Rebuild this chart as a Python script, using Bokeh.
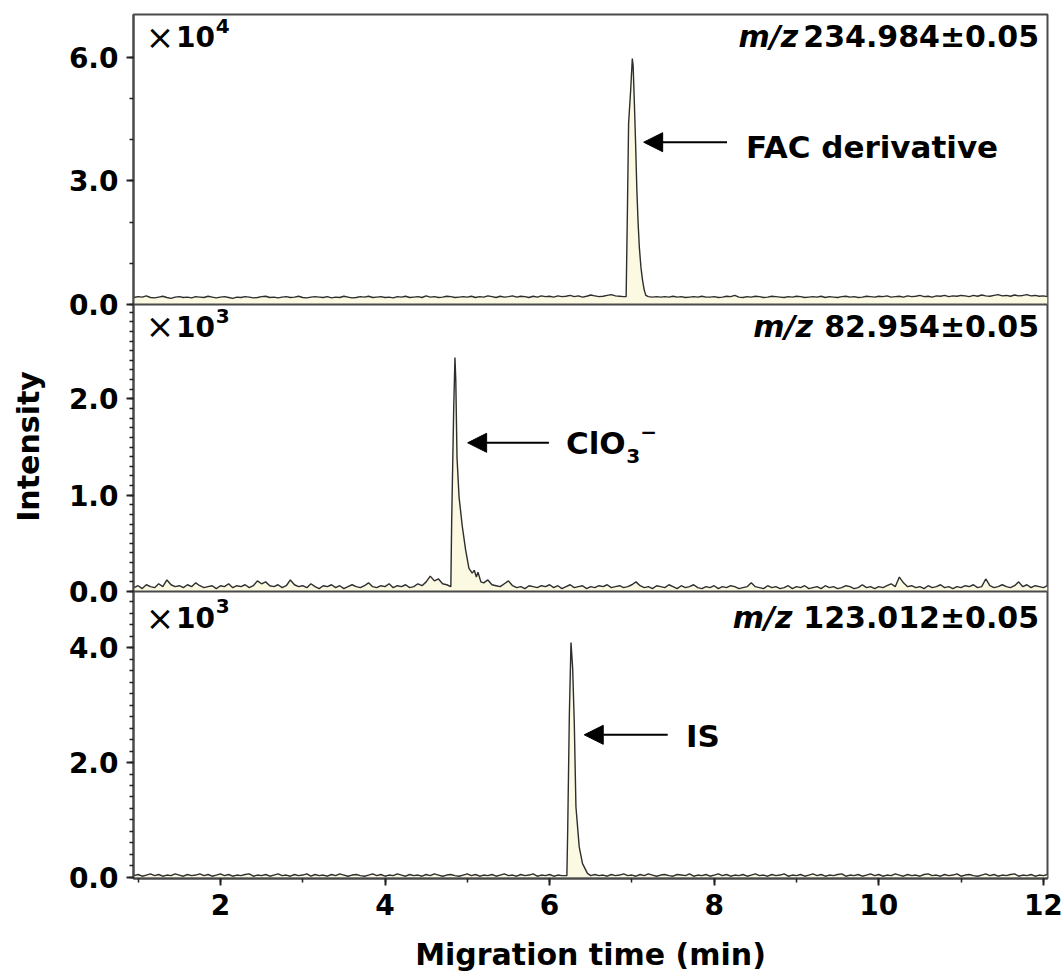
import numpy as np
from bokeh.plotting import figure
from bokeh.models import (Range1d, FixedTicker, CustomJSTickFormatter, Span, Label,
                          Arrow, NormalHead)
from bokeh.embed import file_html
from bokeh.resources import INLINE

# ---------------- data ----------------
# sampling grid of the electropherograms (min)
T_GRID = np.round(np.arange(0.95, 12.051, 0.05), 2)

# m/z 234.984 trace (x10^4) - baseline
P1_BASE = [
    0.17, 0.19, 0.18, 0.21, 0.17, 0.16, 0.18, 0.20, 0.17, 0.15, 0.18, 0.19, 0.17, 0.18, 0.16, 0.19, 0.18, 0.17, 0.20, 0.18,
    0.16, 0.18, 0.19, 0.17, 0.15, 0.18, 0.17, 0.19, 0.18, 0.16, 0.17, 0.19, 0.20, 0.17, 0.18, 0.16, 0.18, 0.19, 0.17, 0.18,
    0.20, 0.17, 0.16, 0.18, 0.19, 0.18, 0.17, 0.19, 0.16, 0.18, 0.17, 0.20, 0.18, 0.16, 0.17, 0.19, 0.18, 0.20, 0.17, 0.18,
    0.19, 0.17, 0.18, 0.16, 0.19, 0.18, 0.20, 0.17, 0.18, 0.19, 0.17, 0.21, 0.18, 0.19, 0.17, 0.18, 0.20, 0.19, 0.17, 0.18,
    0.19, 0.18, 0.20, 0.17, 0.19, 0.18, 0.21, 0.19, 0.17, 0.20, 0.18, 0.19, 0.21, 0.18, 0.20, 0.19, 0.17, 0.20, 0.18, 0.21,
    0.19, 0.20, 0.18, 0.21, 0.19, 0.20, 0.22, 0.19, 0.21, 0.18, 0.20, 0.23, 0.21, 0.19, 0.20, 0.22, 0.24, 0.21, 0.20, 0.19,
    0.20, 0.20, 0.20, 0.21, 0.20, 0.19, 0.18, 0.19, 0.18, 0.19, 0.18, 0.20, 0.18, 0.19, 0.17, 0.18, 0.19, 0.18, 0.20, 0.18,
    0.18, 0.19, 0.17, 0.18, 0.20, 0.19, 0.22, 0.18, 0.17, 0.19, 0.18, 0.20, 0.19, 0.17, 0.18, 0.20, 0.19, 0.18, 0.17, 0.19,
    0.18, 0.20, 0.19, 0.17, 0.18, 0.19, 0.18, 0.20, 0.17, 0.19, 0.18, 0.17, 0.19, 0.20, 0.18, 0.19, 0.17, 0.18, 0.20, 0.19,
    0.18, 0.20, 0.19, 0.21, 0.18, 0.19, 0.20, 0.18, 0.21, 0.19, 0.20, 0.22, 0.19, 0.20, 0.18, 0.21, 0.20, 0.22, 0.19, 0.21,
    0.20, 0.22, 0.21, 0.19, 0.22, 0.20, 0.23, 0.21, 0.20, 0.22, 0.24, 0.21, 0.22, 0.20, 0.23, 0.21, 0.22, 0.24, 0.21, 0.22,
    0.20, 0.21, 0.19,
]
P1_PEAK_T = [6.93, 6.945, 6.96, 6.985, 7.005, 7.015, 7.03, 7.045, 7.06, 7.075, 7.09, 7.11, 7.13, 7.15, 7.17, 7.20]
P1_PEAK_V = [0.19, 2.20, 4.40, 5.20, 5.97, 5.80, 4.90, 3.90, 2.80, 2.00, 1.40, 0.90, 0.58, 0.35, 0.22, 0.19]

# m/z 82.954 trace (x10^3)
P2_BASE = [
    0.04, 0.06, 0.03, 0.07, 0.05, 0.04, 0.08, 0.05, 0.12, 0.07, 0.05, 0.06, 0.04, 0.07, 0.05, 0.09, 0.06, 0.04, 0.05, 0.06,
    0.03, 0.06, 0.05, 0.08, 0.04, 0.06, 0.05, 0.07, 0.04, 0.06, 0.11, 0.08, 0.10, 0.06, 0.05, 0.07, 0.04, 0.06, 0.12, 0.07,
    0.05, 0.06, 0.04, 0.08, 0.05, 0.03, 0.06, 0.05, 0.07, 0.04, 0.06, 0.03, 0.05, 0.07, 0.05, 0.04, 0.06, 0.09, 0.05, 0.04,
    0.06, 0.05, 0.08, 0.04, 0.06, 0.05, 0.07, 0.04, 0.05, 0.08, 0.06, 0.10, 0.16, 0.11, 0.13, 0.08, 0.07, 0.05, 0.05, 0.05,
    0.05, 0.05, 0.05, 0.05, 0.05, 0.09, 0.12, 0.07, 0.06, 0.05, 0.08, 0.11, 0.06, 0.04, 0.05, 0.03, 0.06, 0.05, 0.04, 0.06,
    0.05, 0.07, 0.04, 0.06, 0.03, 0.05, 0.07, 0.04, 0.05, 0.06, 0.03, 0.05, 0.04, 0.06, 0.05, 0.07, 0.04, 0.05, 0.06, 0.04,
    0.05, 0.07, 0.10, 0.06, 0.04, 0.05, 0.03, 0.06, 0.05, 0.04, 0.07, 0.05, 0.03, 0.06, 0.04, 0.05, 0.07, 0.04, 0.03, 0.05,
    0.04, 0.06, 0.03, 0.05, 0.04, 0.06, 0.05, 0.03, 0.04, 0.05, 0.09, 0.05, 0.04, 0.03, 0.06, 0.04, 0.05, 0.03, 0.04, 0.06,
    0.03, 0.05, 0.04, 0.06, 0.03, 0.04, 0.05, 0.03, 0.06, 0.04, 0.05, 0.03, 0.04, 0.06, 0.05, 0.03, 0.04, 0.07, 0.04, 0.05,
    0.03, 0.05, 0.04, 0.06, 0.08, 0.05, 0.15, 0.09, 0.05, 0.06, 0.04, 0.05, 0.03, 0.06, 0.04, 0.05, 0.07, 0.04, 0.05, 0.03,
    0.05, 0.04, 0.06, 0.05, 0.07, 0.04, 0.05, 0.13, 0.06, 0.04, 0.05, 0.07, 0.05, 0.04, 0.06, 0.10, 0.05, 0.07, 0.04, 0.06,
    0.05, 0.04, 0.06,
]
P2_PEAK_T = [4.80, 4.81, 4.835, 4.85, 4.86, 4.875, 4.90, 4.94, 4.98, 5.02, 5.06, 5.085, 5.11, 5.13, 5.165]
P2_PEAK_V = [0.05, 0.72, 1.91, 2.43, 2.20, 1.39, 0.98, 0.67, 0.43, 0.24, 0.19, 0.22, 0.15, 0.20, 0.10]

# m/z 123.012 trace (x10^3)
P3_BASE = [
    0.03, 0.05, 0.02, 0.04, 0.06, 0.03, 0.05, 0.02, 0.04, 0.03, 0.06, 0.04, 0.02, 0.05, 0.03, 0.04, 0.06, 0.03, 0.05, 0.02,
    0.04, 0.06, 0.03, 0.05, 0.02, 0.04, 0.03, 0.05, 0.06, 0.02, 0.04, 0.03, 0.05, 0.02, 0.04, 0.06, 0.03, 0.04, 0.02, 0.05,
    0.03, 0.04, 0.06, 0.02, 0.05, 0.03, 0.04, 0.02, 0.05, 0.03, 0.06, 0.04, 0.02, 0.04, 0.05, 0.03, 0.02, 0.04, 0.06, 0.03,
    0.05, 0.02, 0.04, 0.03, 0.06, 0.04, 0.02, 0.05, 0.03, 0.04, 0.02, 0.05, 0.03, 0.06, 0.04, 0.02, 0.04, 0.05, 0.03, 0.02,
    0.04, 0.06, 0.03, 0.05, 0.02, 0.04, 0.03, 0.05, 0.02, 0.04, 0.06, 0.03, 0.04, 0.02, 0.05, 0.03, 0.04, 0.06, 0.02, 0.04,
    0.03, 0.05, 0.02, 0.04, 0.03, 0.03, 0.03, 0.03, 0.03, 0.03, 0.03, 0.03, 0.05, 0.03, 0.04, 0.02, 0.05, 0.03, 0.04, 0.06,
    0.03, 0.04, 0.02, 0.05, 0.03, 0.06, 0.04, 0.02, 0.04, 0.05, 0.03, 0.02, 0.05, 0.04, 0.03, 0.06, 0.02, 0.04, 0.03, 0.05,
    0.02, 0.04, 0.06, 0.03, 0.05, 0.02, 0.04, 0.03, 0.05, 0.02, 0.04, 0.06, 0.03, 0.04, 0.02, 0.05, 0.03, 0.04, 0.06, 0.02,
    0.04, 0.03, 0.05, 0.02, 0.04, 0.06, 0.03, 0.05, 0.02, 0.04, 0.03, 0.05, 0.06, 0.02, 0.04, 0.03, 0.05, 0.02, 0.04, 0.06,
    0.03, 0.05, 0.02, 0.04, 0.03, 0.06, 0.04, 0.02, 0.05, 0.03, 0.04, 0.02, 0.05, 0.06, 0.03, 0.04, 0.02, 0.05, 0.03, 0.04,
    0.06, 0.02, 0.04, 0.05, 0.03, 0.02, 0.04, 0.06, 0.03, 0.05, 0.02, 0.04, 0.03, 0.05, 0.06, 0.02, 0.04, 0.03, 0.05, 0.02,
    0.04, 0.03, 0.05,
]
P3_PEAK_T = [6.21, 6.22, 6.24, 6.26, 6.28, 6.30, 6.32, 6.36, 6.40, 6.46, 6.50]
P3_PEAK_V = [0.03, 0.82, 2.83, 4.09, 3.65, 2.69, 1.23, 0.53, 0.24, 0.07, 0.03]

# axis ticks / labels
X_TICKS = [2, 4, 6, 8, 10, 12]
X_MINOR = [1, 2, 3, 4, 5, 6, 7, 8, 9, 10, 11, 12]
P1_TICKS, P1_LABELS = [0, 3, 6], ["0.0", "3.0", "6.0"]
P2_TICKS, P2_LABELS = [0, 1, 2], ["0.0", "1.0", "2.0"]
P3_TICKS, P3_LABELS = [0, 2, 4], ["0.0", "2.0", "4.0"]
P1_MINOR = [0, 1, 2, 3, 4, 5, 6]
P2_MINOR = list(np.round(np.arange(0, 2.95, 0.1), 2))
P3_MINOR = list(np.round(np.arange(0, 4.85, 0.2), 2))

MZ_TEXT = ["234.984\u00b10.05", "82.954\u00b10.05", "123.012\u00b10.05"]
EXPONENTS = ["4", "3", "3"]

# ---------------- layout ----------------
FONT = "DejaVu Sans"
LINE_C = "#2e2e2e"
FRAME_C = "#4a4a4a"
FILL_C = "#fcf9e2"

FRAME_W, FRAME_H = 914, 864
PANEL_PX = [290, 287, 287]          # top, middle, bottom panel heights
b1 = 1.0
a1 = 1.0 - PANEL_PX[0] / FRAME_H
a2 = a1 - PANEL_PX[1] / FRAME_H
a3 = 0.0
SLOTS = {"p1": (a1, b1), "p2": (a2, a1), "p3": (a3, a2)}
LIMS = {"p1": (0.0, 7.04), "p2": (0.0, 2.98), "p3": (-0.02, 4.98)}


def trace(base, pt, pv):
    base = np.asarray(base, dtype=float)
    keep = (T_GRID < pt[0] - 1e-9) | (T_GRID > pt[-1] + 1e-9)
    t = np.concatenate([T_GRID[keep], np.asarray(pt, float)])
    v = np.concatenate([base[keep], np.asarray(pv, float)])
    o = np.argsort(t, kind="stable")
    return t[o], v[o]


def full_range(name):
    a, b = SLOTS[name]
    lo, hi = LIMS[name]
    span = (hi - lo) / (b - a)
    start = lo - a * span
    return Range1d(start, start + span)


def frac(name, v):
    a, b = SLOTS[name]
    lo, hi = LIMS[name]
    return a + (v - lo) / (hi - lo) * (b - a)


p = figure(frame_width=FRAME_W, frame_height=FRAME_H,
           x_range=Range1d(0.944, 12.05), y_range=Range1d(0, 1),
           output_backend="svg", toolbar_location=None,
           min_border_left=133, min_border_right=17, min_border_top=14, min_border_bottom=99)
p.extra_y_ranges = {k: full_range(k) for k in ("p1", "p2", "p3")}
p.xgrid.visible = False
p.ygrid.visible = False
p.background_fill_color = "white"
p.border_fill_color = "white"
p.outline_line_color = FRAME_C
p.outline_line_width = 2

for name, base, pt, pv in (("p1", P1_BASE, P1_PEAK_T, P1_PEAK_V),
                           ("p2", P2_BASE, P2_PEAK_T, P2_PEAK_V),
                           ("p3", P3_BASE, P3_PEAK_T, P3_PEAK_V)):
    t, v = trace(base, pt, pv)
    p.varea(x=t, y1=np.zeros_like(v), y2=v, fill_color=FILL_C, y_range_name=name)
    p.line(t, v, line_color=LINE_C, line_width=1.4, y_range_name=name)

# panel separators
for loc in (a1, a2):
    p.add_layout(Span(location=loc, dimension="width", line_color=FRAME_C, line_width=2))

# y axis: one axis carrying the three panels' ticks
pos, labs, minor = [], [], []
for name, tk, lb, mn in (("p1", P1_TICKS, P1_LABELS, P1_MINOR),
                         ("p2", P2_TICKS, P2_LABELS, P2_MINOR),
                         ("p3", P3_TICKS, P3_LABELS, P3_MINOR)):
    pos += [round(frac(name, v), 6) for v in tk]
    labs += lb
    minor += [round(frac(name, v), 6) for v in mn]

ya = p.yaxis[0]
ya.ticker = FixedTicker(ticks=pos, minor_ticks=minor)
ya.formatter = CustomJSTickFormatter(args=dict(pos=pos, labs=labs), code="""
let best = 0;
for (let i = 0; i < pos.length; i++) {
  if (Math.abs(pos[i] - tick) < Math.abs(pos[best] - tick)) best = i;
}
return labs[best];
""")
ya.axis_label = "Intensity"

xa = p.xaxis[0]
xa.ticker = FixedTicker(ticks=X_TICKS, minor_ticks=X_MINOR)
xa.axis_label = "Migration time (min)"

for ax in (xa, ya):
    ax.axis_line_color = FRAME_C
    ax.axis_line_width = 2
    ax.major_tick_line_color = "#222222"
    ax.minor_tick_line_color = "#222222"
    ax.major_tick_line_width = 2
    ax.minor_tick_line_width = 1.5
    ax.major_tick_in = 0
    ax.major_tick_out = 7
    ax.minor_tick_in = 0
    ax.minor_tick_out = 4
    ax.major_label_text_font = FONT
    ax.major_label_text_font_style = "bold"
    ax.major_label_text_font_size = "28px"
    ax.major_label_text_color = "black"
    ax.axis_label_text_font = FONT
    ax.axis_label_text_font_style = "bold"
    ax.axis_label_text_font_size = "30px"
    ax.axis_label_text_color = "black"
    ax.major_label_standoff = 8
ya.axis_label_standoff = 20
xa.axis_label_standoff = 19


def lab(text, x, y, rn, size, style="bold", align="left"):
    p.add_layout(Label(x=x, y=y, y_range_name=rn, text=text, text_font=FONT,
                       text_font_size=size, text_font_style=style, text_color="black",
                       text_align=align, text_baseline="alphabetic"))


# multiplier labels (x10^n) and m/z labels
MULT_Y = {"p1": 6.505, "p2": 2.752, "p3": 4.527}
EXP_Y = {"p1": 6.75, "p2": 2.856, "p3": 4.719}
MZ_RIGHT = {"p1": 9.02, "p2": 9.20, "p3": 8.95}
for i, name in enumerate(("p1", "p2", "p3")):
    lab("\u00d7", 1.094, MULT_Y[name], name, "34px", style="normal")
    lab("10", 1.461, MULT_Y[name], name, "28px")
    lab(EXPONENTS[i], 1.944, EXP_Y[name], name, "20px")
    lab("m/z", MZ_RIGHT[name], MULT_Y[name], name, "30px", style="bold italic", align="right")
    lab(MZ_TEXT[i], 11.948, MULT_Y[name], name, "30px", align="right")

# peak annotations with arrows
ARROWS = [("p1", 8.156, 7.143, 3.94), ("p2", 5.992, 5.004, 1.544), ("p3", 7.435, 6.421, 2.483)]
for name, xs, xe, yy in ARROWS:
    p.add_layout(Arrow(end=NormalHead(size=19, fill_color="black", line_color="black"),
                       x_start=xs, y_start=yy, x_end=xe, y_end=yy, y_range_name=name,
                       line_color="black", line_width=2))

lab("FAC derivative", 8.387, 3.83, "p1", "31px")
lab("ClO", 6.199, 1.537, "p2", "31px")
lab("3", 6.93, 1.402, "p2", "20px")
lab("\u2212", 7.10, 1.651, "p2", "20px")
lab("IS", 7.657, 2.471, "p3", "31px")

open("out.html", "w").write(file_html(p, INLINE))
